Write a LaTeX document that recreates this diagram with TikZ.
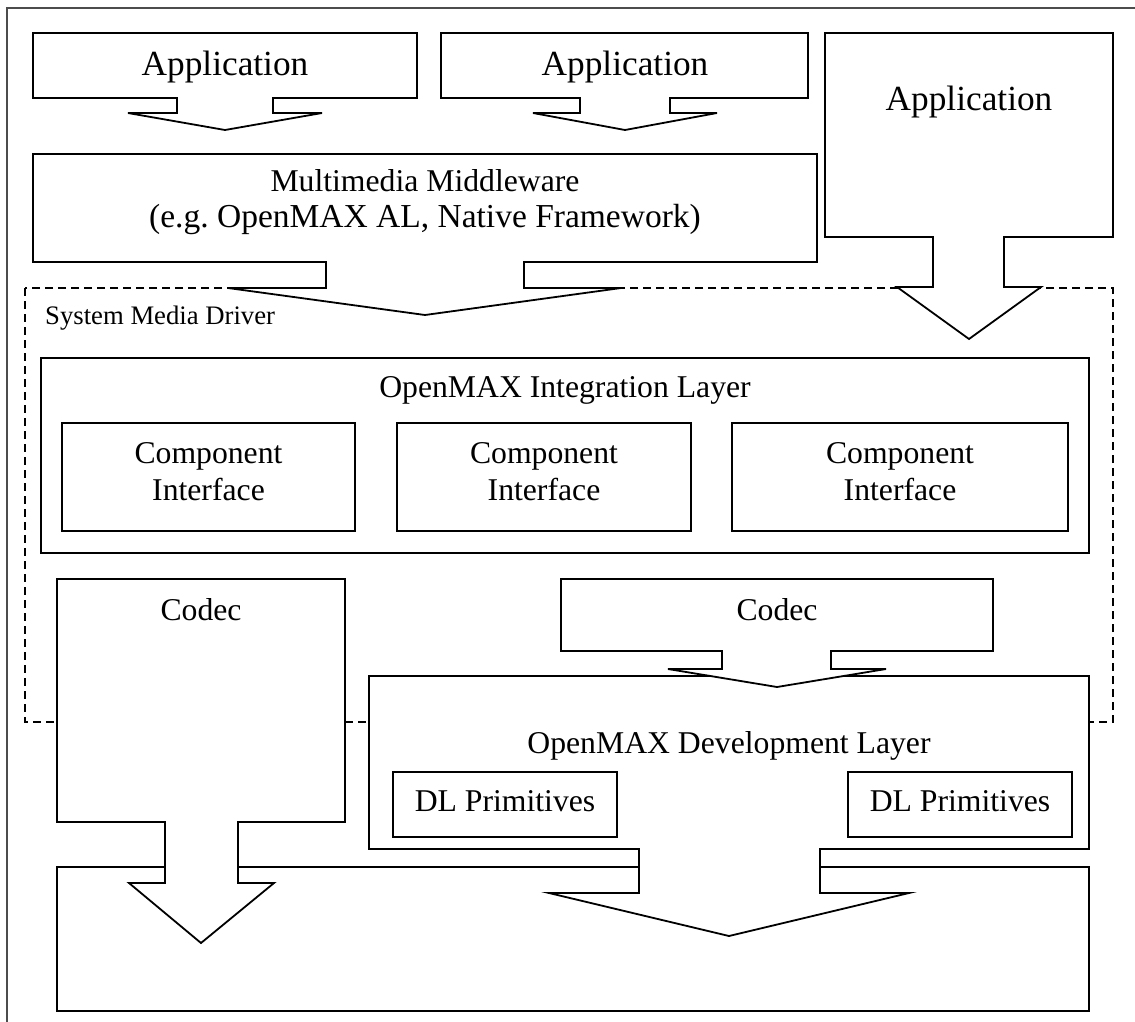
\documentclass[tikz,border=0pt]{standalone}
\usepackage{fontspec}
\setmainfont{Liberation Serif}
\frenchspacing
\begin{document}
\begin{tikzpicture}[x=1pt,y=-1pt,
  blk/.style={draw=black,fill=white,line width=1.8pt,line join=miter},
  lbl/.style={anchor=base,inner sep=0pt,font=\fontsize{31.7}{36}\selectfont},
  applbl/.style={anchor=base,inner sep=0pt,font=\fontsize{35.3}{40}\selectfont},
  smdlbl/.style={anchor=base west,inner sep=0pt,font=\fontsize{26.7}{30}\selectfont},
  framestyle/.style={draw=black!70,line width=1.8pt},
  sysbox/.style={draw=black,dash pattern=on 8pt off 5pt,line width=1.8pt}]
\useasboundingbox (0,0) rectangle (1135,1021);
\fill[white] (0,0) rectangle (1135,1021);
% outer frame
\draw[framestyle] (7,1040) -- (7,8) -- (1150,8);
% system media driver (dashed)
\draw[sysbox] (25,288) rectangle (1113,722);
% applications
\draw[blk] (33,33) -- (417,33) -- (417,98) -- (273,98) -- (273,113) -- (322,113) -- (225,130) -- (128,113) -- (177,113) -- (177,98) -- (33,98) -- cycle;
\draw[blk] (441,33) -- (808,33) -- (808,98) -- (670,98) -- (670,113) -- (717,113) -- (625,130) -- (533,113) -- (580,113) -- (580,98) -- (441,98) -- cycle;
\draw[blk] (825,33) -- (1113,33) -- (1113,237) -- (1004,237) -- (1004,287) -- (1041,287) -- (969,339) -- (897,287) -- (933,287) -- (933,237) -- (825,237) -- cycle;
% middleware
\draw[blk] (33,154) -- (817,154) -- (817,262) -- (524,262) -- (524,288) -- (621,288) -- (425,315) -- (228,288) -- (326,288) -- (326,262) -- (33,262) -- cycle;
% integration layer
\draw[blk] (41,358) rectangle (1089,553);
\draw[blk] (62,423) rectangle (355,531);
\draw[blk] (397,423) rectangle (691,531);
\draw[blk] (732,423) rectangle (1068,531);
% bottom box
\draw[blk] (57,867) rectangle (1089,1011);
% codec 1
\draw[blk] (57,579) -- (345,579) -- (345,822) -- (238,822) -- (238,883) -- (274,883) -- (201,943) -- (129,883) -- (165,883) -- (165,822) -- (57,822) -- cycle;
% development layer
\draw[blk] (369,676) -- (1089,676) -- (1089,849) -- (820,849) -- (820,893) -- (909,893) -- (729,936) -- (549,893) -- (639,893) -- (639,849) -- (369,849) -- cycle;
% codec 2
\draw[blk] (561,579) -- (993,579) -- (993,651) -- (831,651) -- (831,669) -- (886,669) -- (777,687) -- (668,669) -- (722,669) -- (722,651) -- (561,651) -- cycle;
% DL primitives
\draw[blk] (393,772) rectangle (617,837);
\draw[blk] (848,772) rectangle (1072,837);
% labels
\node[applbl] (app1) at (225,75) {Application};
\node[applbl] (app2) at (625,75) {Application};
\node[applbl] (app3) at (969,110.5) {Application};
\node[lbl] (mm1) at (425,191) {Multimedia Middleware};
\node[lbl,font=\fontsize{33.5}{38}\selectfont] (mm2) at (425,227) {(e.g. OpenMAX AL, Native Framework)};
\node[smdlbl] (smd) at (45,324.3) {System Media Driver};
\node[lbl] (il) at (565,397) {OpenMAX Integration Layer};
\node[lbl] (ci1a) at (208.5,463.3) {Component};
\node[lbl] (ci1b) at (208.5,500) {Interface};
\node[lbl] (ci2a) at (544,463.3) {Component};
\node[lbl] (ci2b) at (544,500) {Interface};
\node[lbl] (ci3a) at (900,463.3) {Component};
\node[lbl] (ci3b) at (900,500) {Interface};
\node[lbl] (codec1) at (201,620) {Codec};
\node[lbl] (codec2) at (777,620) {Codec};
\node[lbl] (dl) at (729,753) {OpenMAX Development Layer};
\node[lbl] (dlp1) at (505,811.7) {DL Primitives};
\node[lbl] (dlp2) at (960,811.7) {DL Primitives};
\end{tikzpicture}
\end{document}
